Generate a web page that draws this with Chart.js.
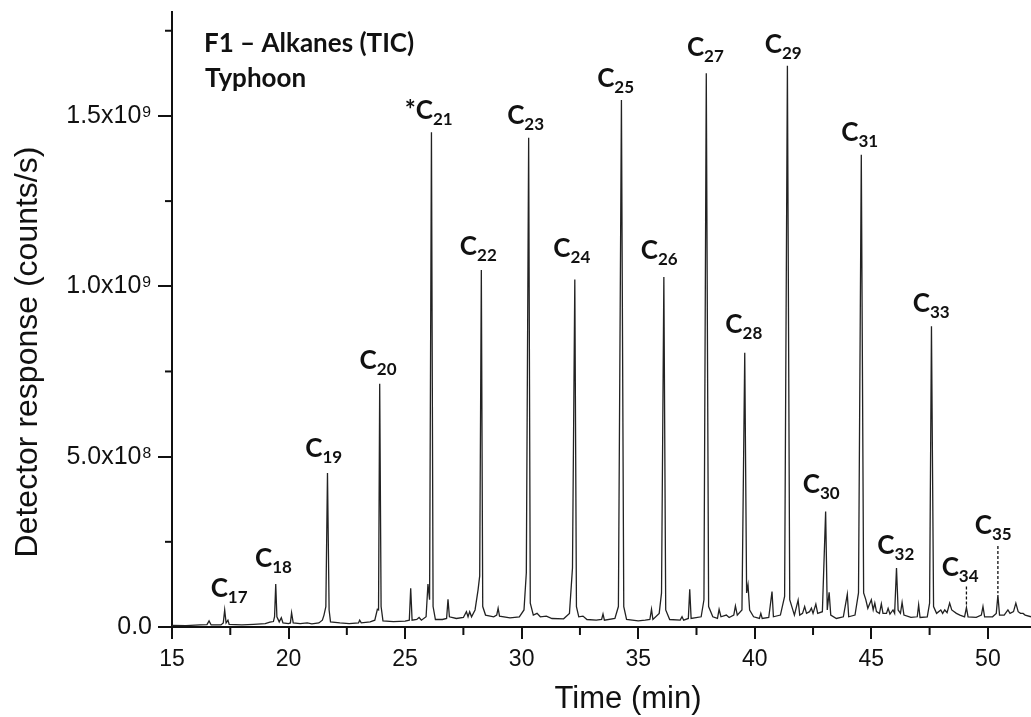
<!DOCTYPE html>
<html>
<head>
<meta charset="utf-8">
<script src="https://cdn.jsdelivr.net/npm/chart.js@4.4.1/dist/chart.umd.min.js"></script>
<style>
  html, body { margin: 0; padding: 0; background: #fff; }
</style>
</head>
<body>
<canvas id="tic" width="1031" height="717"></canvas>
<script>
// retention time (min) and detector response (x10^9 counts/s)
const traceTime = [
  15.0, 15.6, 16.2, 16.5, 16.59, 16.68, 17.1, 17.2, 17.26, 17.32, 17.4, 17.45, 18.0, 18.5, 19.0, 19.2, 19.35,
  19.4, 19.45, 19.5, 19.6, 19.69, 19.76, 20.0, 20.08, 20.13, 20.2, 20.5, 20.8, 21.0, 21.3, 21.45, 21.52,
  21.6, 21.67, 21.74, 21.8, 22.2, 22.6, 23.0, 23.05, 23.12, 23.5, 23.7, 23.81, 23.86, 23.91, 23.97, 24.05,
  24.5, 25.0, 25.18, 25.24, 25.3, 25.5, 25.6, 25.7, 25.9, 25.98, 26.05, 26.13, 26.2, 26.3, 26.6, 26.78,
  26.84, 26.9, 27.2, 27.5, 27.63, 27.7, 27.77, 27.85, 28.0, 28.13, 28.2, 28.27, 28.33, 28.45, 28.8, 28.93,
  28.99, 29.05, 29.5, 29.9, 30.1, 30.2, 30.3, 30.37, 30.5, 30.66, 30.8, 31.06, 31.3, 31.8, 32.05, 32.18,
  32.28, 32.35, 32.45, 32.63, 32.8, 33.2, 33.43, 33.49, 33.55, 34.0, 34.15, 34.28, 34.38, 34.5, 35.0, 35.3,
  35.5, 35.57, 35.63, 35.9, 36.0, 36.1, 36.18, 36.35, 36.8, 36.88, 36.95, 37.15, 37.21, 37.27, 37.7, 37.82,
  37.92, 38.02, 38.2, 38.4, 38.47, 38.55, 38.78, 38.9, 39.1, 39.17, 39.25, 39.45, 39.57, 39.65, 39.71, 39.78,
  39.95, 40.2, 40.26, 40.32, 40.6, 40.74, 40.8, 41.1, 41.28, 41.4, 41.5, 41.7, 41.86, 41.93, 42.05, 42.14,
  42.22, 42.35, 42.43, 42.5, 42.62, 42.7, 42.9, 43.04, 43.11, 43.19, 43.26, 43.5, 43.8, 43.97, 44.03, 44.3,
  44.45, 44.57, 44.67, 44.76, 44.85, 45.0, 45.08, 45.15, 45.22, 45.35, 45.43, 45.5, 45.65, 45.72, 45.8, 45.93,
  46.0, 46.08, 46.15, 46.25, 46.32, 46.4, 46.7, 46.97, 47.03, 47.09, 47.4, 47.5, 47.58, 47.67, 47.8, 47.98,
  48.06, 48.15, 48.25, 48.36, 48.45, 48.65, 48.8, 49.0, 49.08, 49.15, 49.5, 49.72, 49.79, 49.86, 50.2, 50.36,
  50.43, 50.5, 50.7, 50.86, 50.95, 51.1, 51.2, 51.3, 51.4, 51.51, 51.6, 51.85
];
const traceResponse = [
  0.005, 0.004, 0.006, 0.007, 0.018, 0.006, 0.006, 0.012, 0.050, 0.012, 0.020, 0.008, 0.006, 0.008, 0.010, 0.014, 0.016,
  0.030, 0.126, 0.030, 0.015, 0.027, 0.012, 0.010, 0.012, 0.042, 0.012, 0.010, 0.012, 0.009, 0.012, 0.020, 0.035,
  0.060, 0.452, 0.050, 0.015, 0.012, 0.010, 0.012, 0.020, 0.012, 0.015, 0.020, 0.052, 0.050, 0.714, 0.060, 0.018,
  0.016, 0.017, 0.020, 0.114, 0.020, 0.022, 0.028, 0.020, 0.030, 0.126, 0.080, 1.452, 0.060, 0.022, 0.022, 0.025,
  0.081, 0.030, 0.025, 0.028, 0.045, 0.030, 0.045, 0.030, 0.050, 0.109, 0.150, 1.048, 0.060, 0.035, 0.030, 0.035,
  0.055, 0.032, 0.027, 0.030, 0.050, 0.159, 1.436, 0.070, 0.035, 0.040, 0.030, 0.032, 0.025, 0.024, 0.040, 0.173,
  1.020, 0.060, 0.030, 0.032, 0.022, 0.020, 0.022, 0.038, 0.020, 0.025, 0.060, 1.547, 0.060, 0.022, 0.018, 0.020,
  0.022, 0.052, 0.022, 0.040, 0.100, 1.027, 0.050, 0.022, 0.020, 0.030, 0.020, 0.025, 0.111, 0.025, 0.030, 0.080,
  1.625, 0.060, 0.030, 0.025, 0.052, 0.030, 0.035, 0.028, 0.035, 0.062, 0.035, 0.050, 0.805, 0.100, 0.124, 0.050,
  0.030, 0.025, 0.040, 0.025, 0.028, 0.104, 0.030, 0.035, 0.090, 1.647, 0.080, 0.035, 0.079, 0.035, 0.040, 0.060,
  0.040, 0.045, 0.055, 0.040, 0.067, 0.040, 0.045, 0.339, 0.050, 0.102, 0.035, 0.025, 0.030, 0.096, 0.030, 0.035,
  0.100, 1.386, 0.100, 0.081, 0.055, 0.080, 0.050, 0.070, 0.045, 0.040, 0.068, 0.040, 0.040, 0.055, 0.038, 0.050,
  0.040, 0.173, 0.050, 0.040, 0.072, 0.035, 0.028, 0.030, 0.065, 0.028, 0.030, 0.070, 0.883, 0.060, 0.040, 0.050,
  0.040, 0.050, 0.042, 0.070, 0.050, 0.040, 0.035, 0.030, 0.057, 0.030, 0.028, 0.035, 0.060, 0.030, 0.030, 0.040,
  0.094, 0.035, 0.035, 0.050, 0.040, 0.045, 0.070, 0.045, 0.040, 0.040, 0.035, 0.030
];

// n-alkane peak labels: centre time, and response at the bottom of the label
const labelPrefix = ['C', 'C', 'C', 'C', '*C', 'C', 'C', 'C', 'C', 'C', 'C', 'C', 'C', 'C', 'C', 'C', 'C', 'C', 'C'];
const labelCarbon = ['17', '18', '19', '20', '21', '22', '23', '24', '25', '26', '27', '28', '29', '30', '31', '32', '33', '34', '35'];
const labelTime = [17.45, 19.35, 21.51, 23.84, 26.01, 28.14, 30.17, 32.15, 34.03, 35.9, 37.88, 39.53, 41.22, 42.85, 44.5, 46.05, 47.57, 48.81, 50.23];
const labelBottom = [0.07, 0.158, 0.481, 0.741, 1.474, 1.074, 1.458, 1.068, 1.567, 1.062, 1.657, 0.845, 1.667, 0.377, 1.41, 0.198, 0.908, 0.133, 0.254];

// dashed leaders for C34 and C35
const leaderTime = [49.08, 50.43];
const leaderTop = [0.119, 0.238];
const leaderBottom = [0.065, 0.099];

const xTicks = [15, 20, 25, 30, 35, 40, 45, 50];
const xMinorTicks = [17.5, 22.5, 27.5, 32.5, 37.5, 42.5, 47.5];
const yTickValues = [0, 0.5, 1.0, 1.5];
const yTickLabels = ['0.0', '5.0x10\u2078', '1.0x10\u2079', '1.5x10\u2079'];
const yMinorTicks = [0.25, 0.75, 1.25, 1.75];

const ink = '#111';
const labelFont = 'Lato, "Open Sans", sans-serif';
const axisFont = '"Liberation Sans", Arial, sans-serif';

const decorations = {
  id: 'decorations',
  afterDraw(chart) {
    const { ctx, scales: { x, y } } = chart;
    ctx.save();

    // minor ticks
    ctx.strokeStyle = ink;
    ctx.lineWidth = 2;
    xMinorTicks.forEach(v => {
      const px = x.getPixelForValue(v);
      ctx.beginPath();
      ctx.moveTo(px, x.top);
      ctx.lineTo(px, x.top + 8);
      ctx.stroke();
    });
    yMinorTicks.forEach(v => {
      const py = y.getPixelForValue(v);
      ctx.beginPath();
      ctx.moveTo(y.right, py);
      ctx.lineTo(y.right - 7, py);
      ctx.stroke();
    });

    // leaders
    ctx.lineWidth = 1.3;
    ctx.setLineDash([3, 2]);
    leaderTime.forEach((t, i) => {
      const px = x.getPixelForValue(t);
      ctx.beginPath();
      ctx.moveTo(px, y.getPixelForValue(leaderTop[i]));
      ctx.lineTo(px, y.getPixelForValue(leaderBottom[i]));
      ctx.stroke();
    });
    ctx.setLineDash([]);

    // peak labels
    ctx.fillStyle = ink;
    ctx.textBaseline = 'alphabetic';
    ctx.textAlign = 'left';
    labelCarbon.forEach((sub, i) => {
      const cx = x.getPixelForValue(labelTime[i]);
      const by = y.getPixelForValue(labelBottom[i]);
      ctx.font = 'bold 26px ' + labelFont;
      const wMain = ctx.measureText(labelPrefix[i]).width;
      ctx.font = 'bold 17px ' + labelFont;
      const wSub = ctx.measureText(sub).width;
      const left = cx - (wMain + wSub) / 2;
      ctx.font = 'bold 26px ' + labelFont;
      ctx.fillText(labelPrefix[i], left, by - 6);
      ctx.font = 'bold 17px ' + labelFont;
      ctx.fillText(sub, left + wMain, by);
    });

    // sample header
    ctx.font = 'bold 26px ' + labelFont;
    ctx.fillText('F1 \u2013 Alkanes (TIC)', 204, 52);
    ctx.fillText('Typhoon', 205, 87);

    // axis titles
    ctx.font = '31px ' + axisFont;
    ctx.textAlign = 'center';
    ctx.fillText('Time (min)', 628, 708);
    ctx.font = '32px ' + axisFont;
    ctx.translate(37, 352);
    ctx.rotate(-Math.PI / 2);
    ctx.fillText('Detector response (counts/s)', 0, 0);

    ctx.restore();
  }
};

new Chart(document.getElementById('tic'), {
  type: 'line',
  data: {
    datasets: [{
      data: traceTime.map((t, i) => ({ x: t, y: traceResponse[i] })),
      borderColor: '#222',
      borderWidth: 1.3,
      pointRadius: 0,
      tension: 0,
      fill: false
    }]
  },
  options: {
    responsive: false,
    animation: false,
    events: [],
    layout: { padding: { top: 12, right: 0, left: 0, bottom: 0 } },
    plugins: {
      legend: { display: false },
      tooltip: { enabled: false }
    },
    scales: {
      x: {
        type: 'linear',
        min: 15,
        max: 51.85,
        afterFit: s => { s.height = 90; s.paddingLeft = 0; s.paddingRight = 0; },
        afterBuildTicks: s => { s.ticks = xTicks.map(v => ({ value: v })); },
        ticks: {
          color: ink,
          font: { family: axisFont, size: 23 },
          padding: 7,
          maxRotation: 0,
          callback: v => String(v)
        },
        grid: { drawOnChartArea: false, color: ink, lineWidth: 2, tickLength: 12 },
        border: { color: ink, width: 2 }
      },
      y: {
        type: 'linear',
        min: 0,
        max: 1.805,
        afterFit: s => { s.width = 172; s.paddingTop = 0; s.paddingBottom = 0; },
        afterBuildTicks: s => { s.ticks = yTickValues.map(v => ({ value: v })); },
        ticks: {
          color: ink,
          font: { family: axisFont, size: 25 },
          padding: 6,
          callback: v => yTickLabels[yTickValues.indexOf(v)]
        },
        grid: { drawOnChartArea: false, color: ink, lineWidth: 2, tickLength: 14 },
        border: { color: ink, width: 2 }
      }
    }
  },
  plugins: [decorations]
});
</script>
</body>
</html>
